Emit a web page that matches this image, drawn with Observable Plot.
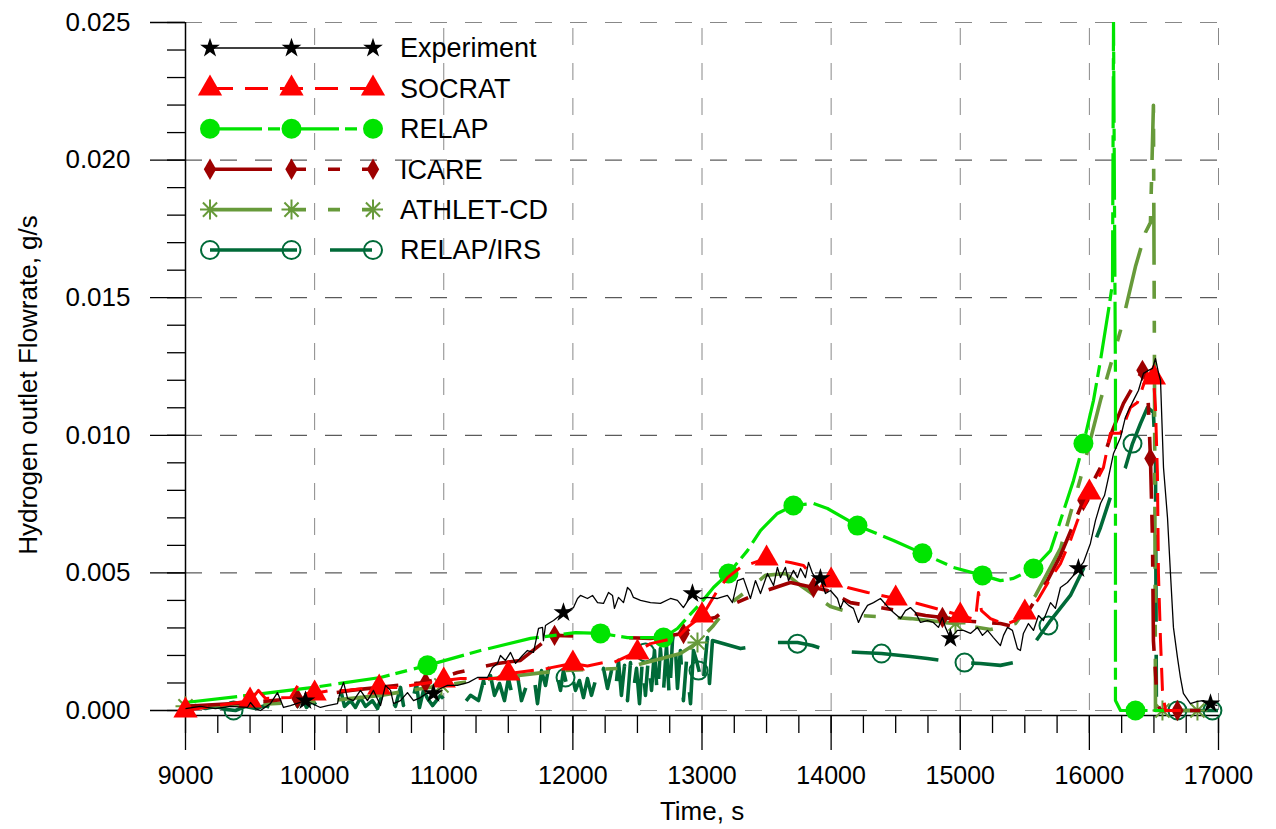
<!DOCTYPE html>
<html>
<head>
<meta charset="utf-8">
<script src="https://cdn.jsdelivr.net/npm/d3@7"></script>
<script src="https://cdn.jsdelivr.net/npm/@observablehq/plot@0.6"></script>
<style>
  body { margin: 0; background: #fff; }
  #chart { width: 1276px; height: 829px; }
  #chart svg { font-family: "Liberation Sans", Arial, sans-serif; }
</style>
</head>
<body>
<div id="chart"></div>
<script>
// Hydrogen outlet flowrate (g/s) versus time (s): experiment and code results.

const seriesNames = ["Experiment", "SOCRAT", "RELAP", "ICARE", "ATHLET-CD", "RELAP/IRS"];

const xMajorTicks = [9000, 10000, 11000, 12000, 13000, 14000, 15000, 16000, 17000];
const yMajorTicks = [0, 0.005, 0.010, 0.015, 0.020, 0.025];

// [time, flowrate]
const experiment = [[9000,0.00007],[9116,0.00015],[9232,0.00007],[9348,0.00015],[9480,0.00011],[9503,0.00029],[9542,0.00007],[9581,0],[9658,0.00025],[9712,0.00065],[9759,0.00011],[9813,0.00018],[9929,0.00036],[10045,0.00011],[10100,0.00018],[10177,0.00025],[10200,0.00073],[10224,0.00102],[10255,0.00044],[10301,0.00036],[10355,0.00073],[10409,0.00036],[10456,0.00073],[10510,0.00018],[10549,0.00091],[10588,0.00073],[10611,0.00025],[10665,0.00036],[10719,0.00065],[10766,0.00036],[10820,0.00047],[10866,0.00062],[10920,0.00062],[10975,0.0008],[11029,0.00091],[11106,0.00091],[11192,0.00102],[11261,0.0012],[11339,0.0012],[11377,0.00156],[11416,0.00171],[11439,0.002],[11478,0.00182],[11517,0.00211],[11556,0.00171],[11610,0.002],[11648,0.00218],[11695,0.00211],[11734,0.00298],[11765,0.00302],[11772,0.00254],[11788,0.00309],[11811,0.00316],[11850,0.00327],[11927,0.00356],[12005,0.00374],[12036,0.00407],[12059,0.00418],[12113,0.00407],[12152,0.00418],[12191,0.00392],[12237,0.00389],[12276,0.00429],[12307,0.00418],[12322,0.00371],[12353,0.00411],[12392,0.00392],[12423,0.00447],[12446,0.00436],[12469,0.00411],[12524,0.004],[12601,0.00392],[12678,0.00389],[12756,0.00407],[12810,0.004],[12856,0.00374],[12926,0.00425],[12988,0.00407],[13042,0.00411],[13120,0.00407],[13197,0.00418],[13236,0.00392],[13275,0.00472],[13321,0.0048],[13375,0.00407],[13414,0.00472],[13453,0.00425],[13507,0.00498],[13554,0.00454],[13584,0.0052],[13608,0.00483],[13646,0.0052],[13670,0.00472],[13708,0.00509],[13739,0.00483],[13763,0.00516],[13801,0.00483],[13825,0.00538],[13856,0.00498],[13894,0.00472],[13917,0.0048],[13956,0.00425],[13995,0.00436],[14049,0.00407],[14072,0.00371],[14096,0.004],[14135,0.00382],[14173,0.00371],[14212,0.0032],[14243,0.00352],[14282,0.00382],[14328,0.00392],[14382,0.00407],[14444,0.00374],[14483,0.00356],[14537,0.00334],[14576,0.00363],[14614,0.00374],[14653,0.00356],[14692,0.0032],[14746,0.00327],[14792,0.0032],[14831,0.00302],[14862,0.00338],[14885,0.00302],[14924,0.00262],[14978,0.00291],[15025,0.00291],[15079,0.0028],[15133,0.00302],[15172,0.00273],[15211,0.00291],[15257,0.00265],[15311,0.00236],[15335,0.00273],[15366,0.00302],[15404,0.00291],[15443,0.00225],[15466,0.00218],[15489,0.0028],[15528,0.00316],[15567,0.00291],[15606,0.00345],[15644,0.00327],[15699,0.00392],[15737,0.00371],[15776,0.00447],[15830,0.00465],[15877,0.00491],[15915,0.00516],[15954,0.00538],[16008,0.00607],[16047,0.0069],[16086,0.00752],[16117,0.00781],[16148,0.00847],[16187,0.00934],[16241,0.00992],[16279,0.01065],[16303,0.0109],[16341,0.01127],[16380,0.01163],[16419,0.01225],[16458,0.01236],[16489,0.01243],[16512,0.01279],[16535,0.01228],[16551,0.01199],[16574,0.00883],[16605,0.00701],[16628,0.00498],[16651,0.00302],[16682,0.00193],[16705,0.0012],[16728,0.00062],[16782,0.00025],[16837,0.00033],[16883,0.00036],[16938,0.00025],[16992,0.00018]];
const experimentMarks = [[9929,0.00036],[10920,0.00062],[11927,0.00356],[12926,0.00425],[13917,0.0048],[14924,0.00262],[15915,0.00516],[16938,0.00025]];

const socrat = [[9000,0],[9503,0.00036],[9565,0.00073],[9620,0.00044],[9813,0.00047],[9875,0.00094],[9929,0.00062],[9991,0.00062],[10123,0.00073],[10239,0.00073],[10487,0.00084],[10665,0.00084],[10742,0.00091],[10998,0.00109],[11130,0.00116],[11416,0.00116],[11463,0.00138],[11501,0.00134],[11803,0.00153],[11997,0.00171],[12113,0.00162],[12237,0.00174],[12314,0.00174],[12485,0.00211],[12601,0.00243],[12810,0.00265],[12887,0.00302],[13004,0.00345],[13120,0.00436],[13197,0.00483],[13298,0.0052],[13491,0.00552],[13685,0.00538],[13786,0.00527],[13863,0.00483],[14010,0.00472],[14127,0.00447],[14282,0.00429],[14498,0.00407],[14669,0.00389],[14870,0.00363],[15002,0.00345],[15118,0.00331],[15141,0.00429],[15164,0.00363],[15234,0.00334],[15350,0.00313],[15428,0.00327],[15489,0.00356],[15598,0.004],[15699,0.0048],[15776,0.00534],[15853,0.00618],[15908,0.0069],[16008,0.00792],[16109,0.00883],[16163,0.01007],[16241,0.01007],[16318,0.01101],[16372,0.01119],[16450,0.01225],[16496,0.0121],[16512,0.01101],[16527,0.00861],[16535,0.00498],[16551,0.00254],[16566,0.00073],[16589,0],[16744,0]];
const socratMarks = [[9000,0],[9500,0.00036],[10000,0.00062],[10500,0.00084],[11000,0.00109],[11500,0.00134],[12000,0.00171],[12500,0.00211],[13000,0.00345],[13500,0.00552],[14000,0.00472],[14500,0.00407],[15000,0.00345],[15500,0.00356],[16000,0.00792],[16500,0.0121]];

const relap = [[9000,0.00029],[9480,0.00055],[9991,0.00084],[10510,0.0012],[10874,0.00164],[11285,0.00218],[11672,0.00262],[12020,0.00283],[12214,0.0028],[12423,0.00265],[12702,0.00265],[12810,0.00298],[12887,0.00338],[12988,0.00389],[13089,0.00447],[13205,0.00498],[13352,0.00581],[13453,0.00654],[13584,0.00716],[13708,0.00745],[13863,0.00752],[13972,0.00734],[14204,0.00672],[14483,0.00618],[14707,0.00571],[14947,0.0052],[15172,0.00491],[15311,0.00472],[15412,0.0048],[15567,0.00516],[15699,0.00581],[15776,0.0069],[15877,0.00836],[15954,0.0097],[16032,0.01127],[16086,0.01272],[16148,0.01454],[16179,0.01552],[16187,0.025],[16202,0.01199],[16202,0.00036],[16241,0],[16705,0]];
const relapMarks = [[10874,0.00164],[12214,0.0028],[12702,0.00265],[13205,0.00498],[13708,0.00745],[14204,0.00672],[14707,0.00571],[15172,0.00491],[15567,0.00516],[15954,0.0097],[16357,0]];

const icare = [[9000,0.00015],[9503,0.00029],[9867,0.00044],[10278,0.00073],[10859,0.00102],[11106,0.00138],[11416,0.00171],[11594,0.00182],[11788,0.00254],[11858,0.00273],[12369,0.00265],[12601,0.00262],[12857,0.0028],[12988,0.00327],[13104,0.00338],[13220,0.00382],[13453,0.00429],[13685,0.00465],[13863,0.00447],[13972,0.00436],[14150,0.00392],[14421,0.00371],[14731,0.00345],[14862,0.00338],[15002,0.00327],[15311,0.00316],[15412,0.00305],[15505,0.00345],[15675,0.00472],[15776,0.00563],[15954,0.00763],[16086,0.00883],[16179,0.01018],[16264,0.01116],[16411,0.01236],[16450,0.01188],[16473,0.00916],[16489,0.00618],[16496,0.00254],[16527,0.00025],[16551,0],[16860,0]];
const icareMarks = [[9867,0.00044],[10859,0.00102],[11858,0.00273],[12857,0.0028],[13863,0.00447],[14862,0.00338],[15954,0.00763],[16411,0.01236],[16473,0.00916],[16682,0]];

const athlet = [[9000,0.00015],[9581,0.00022],[10123,0.00036],[10510,0.00055],[10982,0.00091],[11439,0.0012],[11904,0.00145],[12369,0.00153],[12423,0.00156],[12833,0.00207],[12965,0.00247],[13089,0.00309],[13220,0.00389],[13352,0.00436],[13491,0.00491],[13646,0.00498],[13763,0.00454],[13995,0.00378],[14227,0.00345],[14614,0.00334],[14963,0.00316],[15234,0.00294],[15428,0.00316],[15583,0.00418],[15776,0.00589],[15931,0.00843],[16086,0.01127],[16241,0.01381],[16357,0.01613],[16434,0.01737],[16473,0.01773],[16496,0.02199],[16504,0.01272],[16512,0],[17000,0]];
const athletMarks = [[9000,0.00015],[10982,0.00091],[12965,0.00247],[14963,0.00316],[16566,0],[16837,0]];

const relapIrs = [[9000,0.00011],[9077,0.00018],[9155,0.00007],[9232,0.00015],[9310,0.00004],[9387,0],[9465,0.00015],[9542,0.00007],[9620,0.00018],[9674,0.00007],[9736,0.00018],[9798,0.00011],[9836,0.00047],[9867,0.00015],[9906,0.00044],[9937,0.00011],[9983,0.00036],[10030,0.00007],[10084,0.00022],[10138,0.00015],[10185,0.00036],[10208,0.00062],[10231,0.00015],[10278,0.00036],[10316,0.00011],[10355,0.00047],[10394,0.00015],[10448,0.00036],[10487,0.00007],[10526,0.00062],[10549,0.00011],[10588,0.00044],[10626,0.00015],[10665,0.00084],[10688,0.00018],[10727,0.00073],[10758,0.00036],[10789,0.00098],[10812,0.00011],[10843,0.00073],[10874,0.00044],[10913,0.00018],[10975,0.00055],[11029,0.00025],[11091,0.00047],[11145,0.00018],[11207,0.00055],[11269,0.00036],[11308,0.00109],[11331,0.00047],[11362,0.00127],[11393,0.00055],[11432,0.00098],[11470,0.00036],[11501,0.00116],[11540,0.00036],[11571,0.00127],[11602,0.00036],[11641,0.00091],[11672,0.00055],[11703,0.00109],[11726,0.00025],[11757,0.00145],[11788,0.00091],[11811,0.00153],[11842,0.00098],[11873,0.00138],[11904,0.00073],[11927,0.00145],[11958,0.0008],[11989,0.00138],[12020,0.00073],[12051,0.00109],[12082,0.00047],[12113,0.00116],[12144,0.00055],[12175,0.00109],[12214,0.00073],[12237,0.00153],[12268,0.0008],[12299,0.00145],[12330,0.00065],[12353,0.00182],[12376,0.00055],[12400,0.00164],[12423,0.00036],[12446,0.00174],[12469,0.00073],[12493,0.00153],[12516,0.00025],[12539,0.00189],[12562,0.00055],[12586,0.002],[12609,0.00073],[12632,0.00218],[12655,0.00044],[12678,0.00225],[12702,0.00073],[12725,0.00236],[12748,0.00036],[12771,0.00254],[12787,0.00298],[12810,0.0008],[12833,0.00218],[12856,0.00036],[12880,0.00182],[12911,0.00025],[12934,0.00218],[12957,0.00182],[12980,0.00138],[13004,0.00073],[13042,0.00265],[13058,0.00098],[13081,0.00254],[13298,0.00225],[13453,0.00236],[13584,0.00247],[13739,0.00247],[13855,0.00236],[13972,0.00218],[14227,0.00211],[14390,0.00207],[14614,0.00196],[14746,0.00189],[14978,0.00174],[15156,0.00171],[15311,0.00164],[15412,0.00174],[15544,0.00225],[15699,0.00327],[15853,0.00418],[15985,0.00545],[16086,0.00665],[16187,0.0081],[16279,0.00883],[16334,0.0097],[16396,0.01043],[16450,0.01101],[16496,0.01083],[16512,0.00909],[16519,0.00011],[16551,0],[17000,0]];
const relapIrsMarks = [[9372,0],[11943,0.0012],[12562,0.00211],[12973,0.00145],[13739,0.00243],[14390,0.00207],[15033,0.00174],[15683,0.00309],[16334,0.0097],[16682,0],[16953,0]];

// Eight-spoke asterisk used for ATHLET-CD
const asterisk8 = {
  draw(context, size) {
    const r = Math.sqrt(size / Math.PI);
    const d = r * Math.SQRT1_2;
    context.moveTo(0, -r); context.lineTo(0, r);
    context.moveTo(-r, 0); context.lineTo(r, 0);
    context.moveTo(-d, -d); context.lineTo(d, d);
    context.moveTo(-d, d); context.lineTo(d, -d);
  }
};

const styles = {
  "Experiment": {color: "#000000", width: 1.3, dash: null, symbol: "star", d3symbol: d3.symbolStar, r: 6.2, filled: true},
  "SOCRAT": {color: "#ff0000", width: 3, dash: "23,12", symbol: "triangle", d3symbol: d3.symbolTriangle, r: 9, filled: true},
  "RELAP": {color: "#00e400", width: 3.2, dash: "52,6,12,7", symbol: "circle", d3symbol: d3.symbolCircle, r: 10, filled: true},
  "ICARE": {color: "#9e0000", width: 3.6, dash: "62,16,18,22,12,22", symbol: "diamond", d3symbol: d3.symbolDiamond, r: 6.5, filled: true},
  "ATHLET-CD": {color: "#679a3a", width: 3.6, dash: "62,16,18,22,12,22", symbol: asterisk8, d3symbol: asterisk8, r: 10, filled: false},
  "RELAP/IRS": {color: "#006a38", width: 3.6, dash: "87,33,42,33", symbol: "circle", d3symbol: d3.symbolCircle, r: 9, filled: false}
};

const seriesData = {
  "Experiment": [experiment, experimentMarks],
  "SOCRAT": [socrat, socratMarks],
  "RELAP": [relap, relapMarks],
  "ICARE": [icare, icareMarks],
  "ATHLET-CD": [athlet, athletMarks],
  "RELAP/IRS": [relapIrs, relapIrsMarks]
};

const rows = (arr) => arr.map(([t, v]) => ({t, v}));

const W = 1276, H = 829;
const minorX = d3.range(9000, 17001, 250);
const minorY = d3.range(0, 26).map(i => i / 1000);
const gridYInner = yMajorTicks.filter(v => v > 0 && v < 0.025);
const gridYOuter = [0, 0.025];
const gridX = xMajorTicks.filter(t => t > 9000);
const dashGrid = "17,18";
const fmtY = d3.format(".3f");
const titleFont = "'Liberation Sans', Arial, sans-serif";

const drawOrder = ["RELAP/IRS", "ATHLET-CD", "ICARE", "RELAP", "SOCRAT", "Experiment"];

const seriesMarks = drawOrder.flatMap(name => {
  const s = styles[name];
  const [line, marks] = seriesData[name];
  return [
    Plot.line(rows(line), {x: "t", y: "v", stroke: s.color, strokeWidth: s.width,
      strokeDasharray: s.dash ?? undefined, strokeLinejoin: "round", strokeLinecap: "butt", clip: true}),
    Plot.dot(rows(marks), {x: "t", y: "v", symbol: () => s.symbol, r: s.r,
      fill: s.filled ? s.color : "none", stroke: s.filled ? "none" : s.color,
      strokeWidth: s.filled ? 0 : 2})
  ];
});

const chart = Plot.plot({
  width: W,
  height: H,
  marginLeft: 185,
  marginRight: 58,
  marginTop: 22,
  marginBottom: 114,
  style: {background: "#fff", fontFamily: titleFont, color: "#000"},
  x: {domain: [9000, 17000], range: [185, 1218]},
  y: {domain: [0, 0.025], range: [710, 22]},
  marks: [
    // dashed grid
    Plot.ruleY(gridYInner, {stroke: "#333", strokeWidth: 1, strokeDasharray: dashGrid}),
    Plot.ruleY(gridYOuter, {stroke: "#888", strokeWidth: 1, strokeDasharray: dashGrid}),
    Plot.ruleX(gridX, {y1: 0, y2: 0.025, stroke: "#888", strokeWidth: 1, strokeDasharray: dashGrid}),
    // axes
    Plot.ruleX([9000], {stroke: "#000", strokeWidth: 1.5}),
    Plot.frame({anchor: "bottom", stroke: "#000", strokeWidth: 1.5}),
    Plot.axisX({ticks: minorX, tickSize: 18, tickFormat: () => "", strokeWidth: 1.3, strokeOpacity: 1, label: null}),
    Plot.axisX({ticks: xMajorTicks, tickSize: 35, tickPadding: 16, tickFormat: d => String(d),
      fontSize: 25, strokeWidth: 1.3, strokeOpacity: 1, label: null}),
    Plot.axisY({ticks: minorY, tickSize: 18, tickFormat: () => "", strokeWidth: 1.3, strokeOpacity: 1, label: null}),
    Plot.axisY({ticks: yMajorTicks, tickSize: 35, tickPadding: 20, tickFormat: fmtY,
      fontSize: 26, strokeWidth: 1.3, strokeOpacity: 1, label: null}),
    Plot.text(["Time, s"], {frameAnchor: "bottom", dy: 96, fontSize: 26, lineAnchor: "middle", textAnchor: "middle"}),
    Plot.text(["Hydrogen outlet Flowrate, g/s"], {frameAnchor: "left", dx: -157, dy: 16, rotate: -90, fontSize: 26,
      lineAnchor: "middle", textAnchor: "middle"}),
    ...seriesMarks
  ]
});

// Legend in the upper-left corner of the plotting area
const svg = d3.select(chart);
const legend = svg.append("g").attr("class", "legend").attr("text-anchor", "start");
const lx0 = 210, lx1 = 373, textX = 400;
seriesNames.forEach((name, i) => {
  const s = styles[name];
  const cy = 48 + i * 40.4;
  const g = legend.append("g");
  g.append("line").attr("x1", lx0).attr("x2", lx1).attr("y1", cy).attr("y2", cy)
    .attr("stroke", s.color).attr("stroke-width", s.width)
    .attr("stroke-dasharray", s.dash);
  const sym = d3.symbol().type(s.d3symbol).size(Math.PI * s.r * s.r);
  [lx0, (lx0 + lx1) / 2, lx1].forEach(px => {
    g.append("path").attr("d", sym()).attr("transform", `translate(${px},${cy})`)
      .attr("fill", s.filled ? s.color : "none")
      .attr("stroke", s.filled ? "none" : s.color)
      .attr("stroke-width", s.filled ? 0 : 2);
  });
  g.append("text").attr("x", textX).attr("y", cy).attr("dy", "0.35em")
    .attr("text-anchor", "start").attr("font-size", 27).attr("fill", "#000").text(name);
});

document.getElementById("chart").appendChild(chart);
</script>
</body>
</html>
